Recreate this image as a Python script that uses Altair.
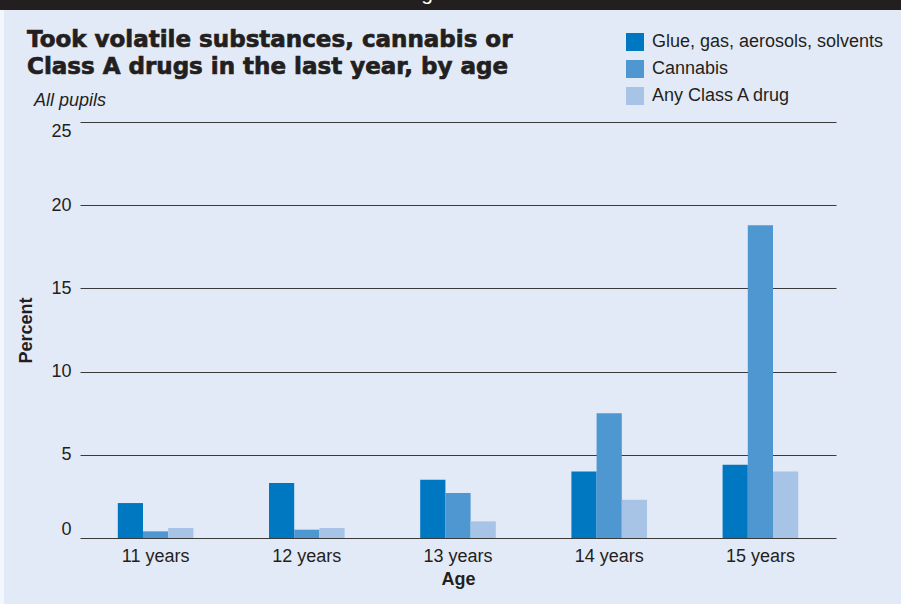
import altair as alt
import pandas as pd

ages = ["11 years", "12 years", "13 years", "14 years", "15 years"]
series = ["Glue, gas, aerosols, solvents", "Cannabis", "Any Class A drug"]
glue = [2.1, 3.3, 3.5, 4.0, 4.4]
cannabis = [0.4, 0.5, 2.7, 7.5, 18.8]
class_a = [0.6, 0.6, 1.0, 2.3, 4.0]
colors = ["#0077C1", "#4E97D1", "#A7C3E6"]
y_ticks = [0, 5, 10, 15, 20, 25]

title_lines = ["Took volatile substances, cannabis or",
               "Class A drugs in the last year, by age"]
subtitle = "All pupils"

rows = []
for name, vals in zip(series, [glue, cannabis, class_a]):
    for a, v in zip(ages, vals):
        rows.append({"Age": a, "Series": name, "Percent": v})
df = pd.DataFrame(rows)

BG = "#E3EAF7"
INK = "#231F20"
FONT = "Liberation Sans"

bars = alt.Chart(df).mark_bar().encode(
    x=alt.X("Age:N", sort=ages,
            scale=alt.Scale(paddingInner=0.5, paddingOuter=0.25),
            axis=alt.Axis(title="Age", labelAngle=0, domain=False, ticks=False,
                          labelPadding=9, labelFontSize=18, labelColor=INK,
                          labelFont=FONT, titleFont=FONT, titleFontSize=18,
                          titleFontWeight="bold", titleColor=INK, titlePadding=5)),
    xOffset=alt.XOffset("Series:N", sort=series, scale=alt.Scale(paddingInner=0, paddingOuter=0)),
    y=alt.Y("Percent:Q",
            scale=alt.Scale(domain=[0, 25], nice=False),
            axis=alt.Axis(title="Percent", values=y_ticks, grid=True, domain=False,
                          ticks=False, labelFlush=True, labelPadding=9,
                          labelFontSize=18, labelColor=INK, labelFont=FONT,
                          titleFont=FONT, titleFontSize=18, titleFontWeight="bold",
                          titleColor=INK, titlePadding=15,
                          gridColor="#3A3A3A", gridWidth=1.2, gridOpacity=1)),
    color=alt.Color("Series:N", sort=series,
                    scale=alt.Scale(domain=series, range=colors),
                    legend=alt.Legend(title=None, orient="none", legendX=546, legendY=-89,
                                      symbolType="square", symbolSize=324,
                                      symbolStrokeWidth=0, symbolOpacity=1,
                                      labelFontSize=18, labelFont=FONT, labelColor=INK,
                                      labelLimit=400, labelOffset=8, rowPadding=9,
                                      padding=0)),
)

one = pd.DataFrame({"k": [0]})

top_strip = alt.Chart(one).mark_rect(color=INK).encode(
    x=alt.value(-80), x2=alt.value(821), y=alt.value(-122), y2=alt.value(-112))
left_strip = alt.Chart(one).mark_rect(color="#F3F6FC").encode(
    x=alt.value(-80), x2=alt.value(-76), y=alt.value(-112), y2=alt.value(482))

g_text = alt.Chart(one).mark_text(text="g", font=FONT, fontSize=21, color="white",
                                  align="center", baseline="alphabetic").encode(
    x=alt.value(347), y=alt.value(-122))

t1 = alt.Chart(one).mark_text(text=title_lines[0], font="DejaVu Sans", fontWeight="bold",
                              fontSize=23, color=INK, stroke=INK, strokeWidth=0.7,
                              align="left", baseline="alphabetic").encode(
    x=alt.value(-53), y=alt.value(-75))
t2 = alt.Chart(one).mark_text(text=title_lines[1], font="DejaVu Sans", fontWeight="bold",
                              fontSize=23, color=INK, stroke=INK, strokeWidth=0.7,
                              align="left", baseline="alphabetic").encode(
    x=alt.value(-53), y=alt.value(-48))
sub = alt.Chart(one).mark_text(text=subtitle, font=FONT, fontStyle="italic",
                               fontSize=18, color=INK, align="left",
                               baseline="alphabetic").encode(x=alt.value(-46), y=alt.value(-16))

chart = alt.layer(top_strip, left_strip, g_text, t1, t2, sub, bars).properties(
    width=756, height=416,
    padding={"left": 80, "top": 122, "right": 65, "bottom": 66},
    autosize=alt.AutoSizeParams(type="none"),
    background=BG,
).configure_view(stroke=None)

chart.save("out.html", embed_options={"renderer": "svg", "actions": False})
